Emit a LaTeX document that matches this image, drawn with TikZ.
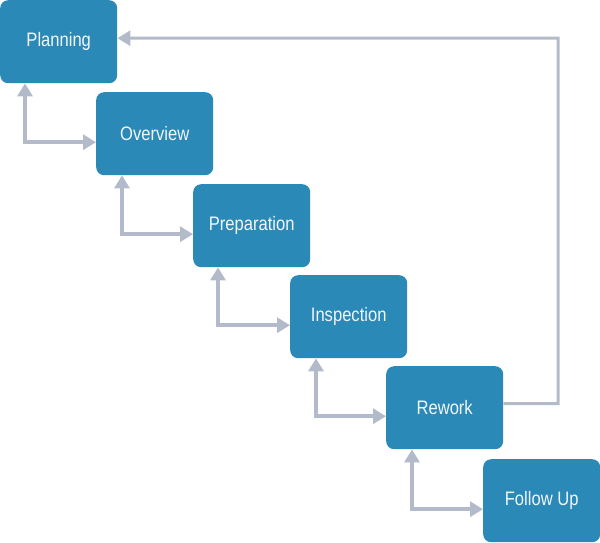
\documentclass[tikz,border=0pt]{standalone}
\usepackage{fontspec}
\setmainfont[FakeStretch=0.85]{Liberation Sans}
\usetikzlibrary{arrows.meta}
\definecolor{boxblue}{HTML}{2B89B8}
\definecolor{linegray}{HTML}{B3BBCA}
\definecolor{txt}{HTML}{F2F6FA}
\tikzset{
  stage/.style={draw=none, fill=boxblue, rounded corners=8pt, minimum width=117pt, minimum height=83pt, inner sep=0pt, anchor=north west, text=txt, font=\fontsize{19.5pt}{22pt}\selectfont},
  dbl/.style={draw=linegray, line width=4pt, {Triangle[width=15pt,length=13pt]}-{Triangle[width=15pt,length=13pt]}},
  fb/.style={draw=linegray, line width=3pt, -{Triangle[width=15pt,length=13pt]}}
}
\begin{document}
\begin{tikzpicture}[x=1pt,y=-1pt]
\useasboundingbox (0,0) rectangle (600,542);
\node[stage] (plan) at (0,0) {Planning};
\node[stage] (over) at (96,92) {Overview};
\node[stage] (prep) at (193,184) {Preparation};
\node[stage] (insp) at (290,275) {Inspection};
\node[stage] (rew) at (386,366) {Rework};
\node[stage] (fol) at (483,459) {Follow Up};
\draw[dbl] ([xshift=25pt]plan.south west) |- ([yshift=-8.5pt]over.west);
\draw[dbl] ([xshift=26pt]over.south west) |- ([yshift=-8.5pt]prep.west);
\draw[dbl] ([xshift=25pt]prep.south west) |- ([yshift=-8.5pt]insp.west);
\draw[dbl] ([xshift=26pt]insp.south west) |- ([yshift=-8.5pt]rew.west);
\draw[dbl] ([xshift=26pt]rew.south west) |- ([yshift=-8.5pt]fol.west);
\coordinate (fbx) at (558,0);
\draw[fb] ([yshift=4pt]rew.east) -| (fbx |- 0,38) -- ([yshift=3.5pt]plan.east);
\end{tikzpicture}
\end{document}
